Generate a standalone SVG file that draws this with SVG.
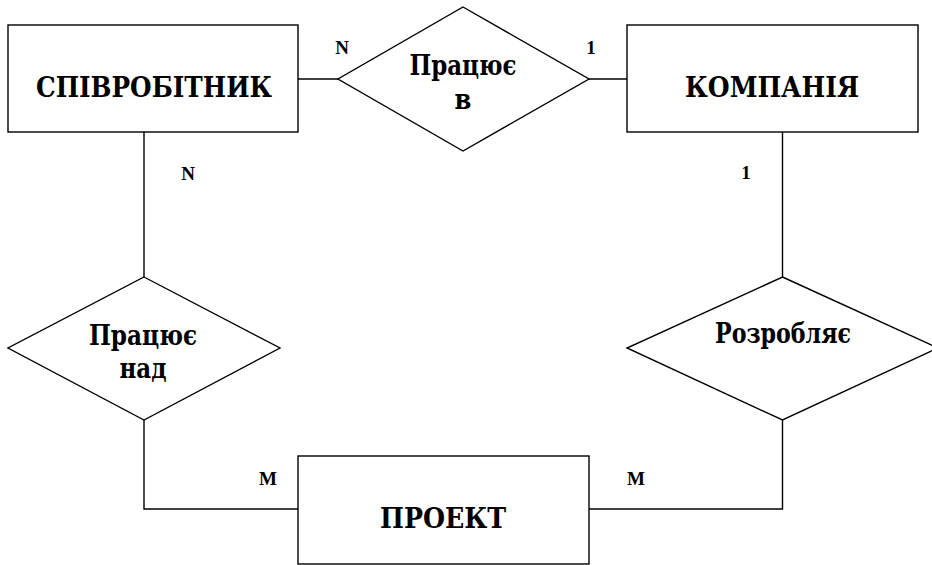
<svg xmlns="http://www.w3.org/2000/svg" width="932" height="565" viewBox="0 0 932 565">
<style>
.shape{fill:#fff;stroke:#000;stroke-width:1.4}
.line{fill:none;stroke:#000;stroke-width:1.4}
.t{font-family:"DejaVu Serif Condensed","DejaVu Serif","Liberation Serif",serif;font-weight:bold;font-size:27px;text-anchor:middle;fill:#000}
.lbl{font-family:"Liberation Serif","Times New Roman",serif;font-weight:bold;font-size:19px;text-anchor:middle;fill:#000}
</style>
<rect width="932" height="565" fill="#fff"/>
<g id="connectors">
<line class="line" x1="298" y1="79" x2="338" y2="79"/>
<line class="line" x1="589" y1="79" x2="627" y2="79"/>
<line class="line" x1="144" y1="132" x2="144" y2="277"/>
<polyline class="line" points="144,420 144,509 298,509"/>
<line class="line" x1="782.5" y1="132" x2="782.5" y2="277"/>
<polyline class="line" points="589,509 782.5,509 782.5,420"/>
<text class="lbl" x="342" y="54">N</text>
<text class="lbl" x="591" y="54">1</text>
<text class="lbl" x="188" y="180">N</text>
<text class="lbl" x="746" y="179">1</text>
<text class="lbl" x="268" y="485">M</text>
<text class="lbl" x="636" y="485">M</text>
</g>
<g id="employee">
<rect class="shape" x="8" y="25" width="290" height="107"/>
<text class="t" x="154" y="97" textLength="236" lengthAdjust="spacingAndGlyphs">СПІВРОБІТНИК</text>
</g>
<g id="company">
<rect class="shape" x="627" y="25" width="291" height="107"/>
<text class="t" x="772" y="97" textLength="174" lengthAdjust="spacingAndGlyphs">КОМПАНІЯ</text>
</g>
<g id="project">
<rect class="shape" x="298" y="456" width="291" height="108"/>
<text class="t" x="443" y="528" textLength="126" lengthAdjust="spacingAndGlyphs">ПРОЕКТ</text>
</g>
<g id="works-in">
<polygon class="shape" points="463,7 589,79 463,151 338,79"/>
<text class="t" x="463" y="75" textLength="107" lengthAdjust="spacingAndGlyphs">Працює</text>
<text class="t" x="463" y="109">в</text>
</g>
<g id="works-on">
<polygon class="shape" points="144,277 280,348 144,420 8,348"/>
<text class="t" x="143" y="345" textLength="108" lengthAdjust="spacingAndGlyphs">Працює</text>
<text class="t" x="143" y="378" textLength="47" lengthAdjust="spacingAndGlyphs">над</text>
</g>
<g id="develops">
<polygon class="shape" points="782.5,277 938,348 782.5,420 627,348"/>
<text class="t" x="783" y="343" textLength="136" lengthAdjust="spacingAndGlyphs">Розробляє</text>
</g>
</svg>
